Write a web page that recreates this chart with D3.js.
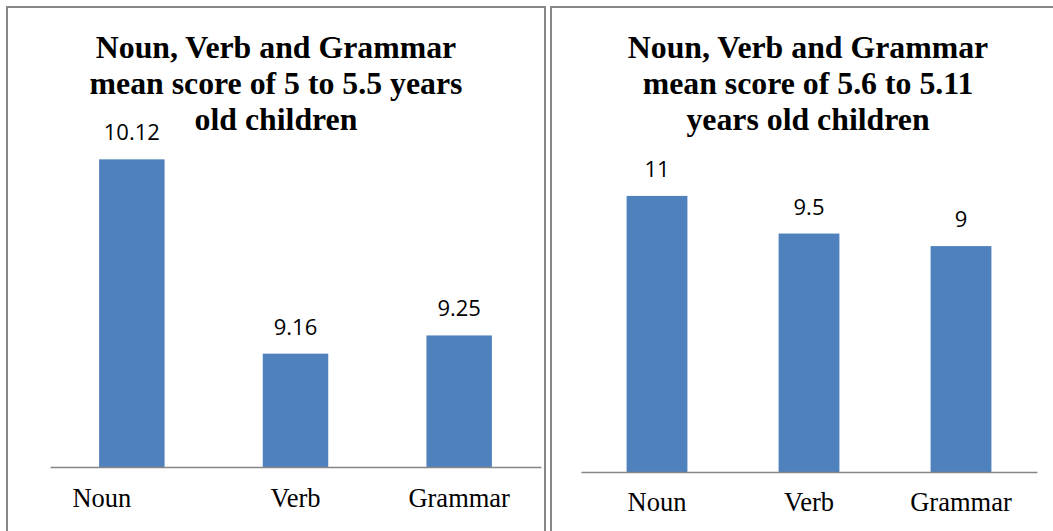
<!DOCTYPE html>
<html>
<head>
<meta charset="utf-8">
<script src="https://cdn.jsdelivr.net/npm/d3@7"></script>
<style>
  body { margin: 0; background: #fff; }
</style>
</head>
<body>
<div id="vis"></div>
<script>
// data
var categories = ["Noun", "Verb", "Grammar"];
var scores_5_to_55 = [10.12, 9.16, 9.25];
var scores_56_to_511 = [11, 9.5, 9];
var value_labels_left = ["10.12", "9.16", "9.25"];
var value_labels_right = ["11", "9.5", "9"];
var title_left = ["Noun, Verb and Grammar", "mean score of 5 to 5.5 years", "old children"];
var title_right = ["Noun, Verb and Grammar", "mean score of 5.6 to 5.11", "years old children"];

var opts = {
  "width": 1053,
  "height": 531,
  "bar_color": "#4F81BD",
  "border_color": "#878787",
  "axis_color": "#868686"
};

var panels = [
  {
    "values": scores_5_to_55, "labels": value_labels_left, "title": title_left,
    "box": [7, 7, 538, 560], "title_x": 276,
    "x_range": [50, 541], "base_y": 467, "domain": [8.6, 10.2], "px_per_unit": 202.4,
    "cat_y": 507, "cat_shift": [-30, 0, 0]
  },
  {
    "values": scores_56_to_511, "labels": value_labels_right, "title": title_right,
    "box": [551, 7, 540, 560], "title_x": 808,
    "x_range": [581, 1037], "base_y": 472, "domain": [0, 12], "px_per_unit": 25.1,
    "cat_y": 511, "cat_shift": [0, 0, 0]
  }
];

var svg = d3.select("#vis")
  .append("svg")
  .attr("width", opts.width)
  .attr("height", opts.height);

svg.append("rect")
  .attr("width", opts.width)
  .attr("height", opts.height)
  .attr("fill", "#fff");

panels.forEach(function(p) {
  var g = svg.append("g");

  g.append("rect")
    .attr("x", p.box[0])
    .attr("y", p.box[1])
    .attr("width", p.box[2])
    .attr("height", p.box[3])
    .attr("fill", "none")
    .attr("stroke", opts.border_color)
    .attr("stroke-width", 2);

  g.selectAll(".title")
    .data(p.title)
    .enter()
    .append("text")
    .attr("class", "title")
    .attr("x", p.title_x)
    .attr("y", function(d, i) { return 58 + i * 36; })
    .attr("text-anchor", "middle")
    .attr("font-family", "'Liberation Serif', 'Times New Roman', serif")
    .attr("font-weight", "bold")
    .attr("font-size", 31.8)
    .attr("fill", "#000")
    .text(function(d) { return d; });

  var x = d3.scaleBand()
    .domain(categories)
    .range(p.x_range)
    .paddingInner(0.6)
    .paddingOuter(0.3);

  var span = (p.domain[1] - p.domain[0]) * p.px_per_unit;
  var y = d3.scaleLinear()
    .domain(p.domain)
    .range([p.base_y, p.base_y - span]);

  var rows = categories.map(function(c, i) {
    return { "cat": c, "value": p.values[i], "label": p.labels[i] };
  });

  g.selectAll(".bar")
    .data(rows)
    .enter()
    .append("rect")
    .attr("class", "bar")
    .attr("x", function(d) { return x(d.cat); })
    .attr("y", function(d) { return y(d.value); })
    .attr("width", x.bandwidth())
    .attr("height", function(d) { return p.base_y - y(d.value); })
    .attr("fill", opts.bar_color);

  g.selectAll(".val")
    .data(rows)
    .enter()
    .append("text")
    .attr("class", "val")
    .attr("x", function(d) { return x(d.cat) + x.bandwidth() / 2; })
    .attr("y", function(d) { return y(d.value) - 19; })
    .attr("text-anchor", "middle")
    .attr("font-family", "'Open Sans', sans-serif")
    .attr("font-size", 22)
    .attr("fill", "#000")
    .text(function(d) { return d.label; });

  // category axis, no ticks
  var axis = g.append("g")
    .attr("transform", "translate(0," + p.base_y + ")")
    .call(d3.axisBottom(x).tickSize(0).tickPadding(0));

  axis.select(".domain")
    .attr("stroke", opts.axis_color)
    .attr("stroke-width", 1.5);

  axis.selectAll(".tick text")
    .attr("y", p.cat_y - p.base_y)
    .attr("dy", 0)
    .attr("dx", function(d, i) { return p.cat_shift[i]; })
    .attr("font-family", "'Liberation Serif', 'Times New Roman', serif")
    .attr("font-size", 26.5)
    .attr("fill", "#000");
});
</script>
</body>
</html>
